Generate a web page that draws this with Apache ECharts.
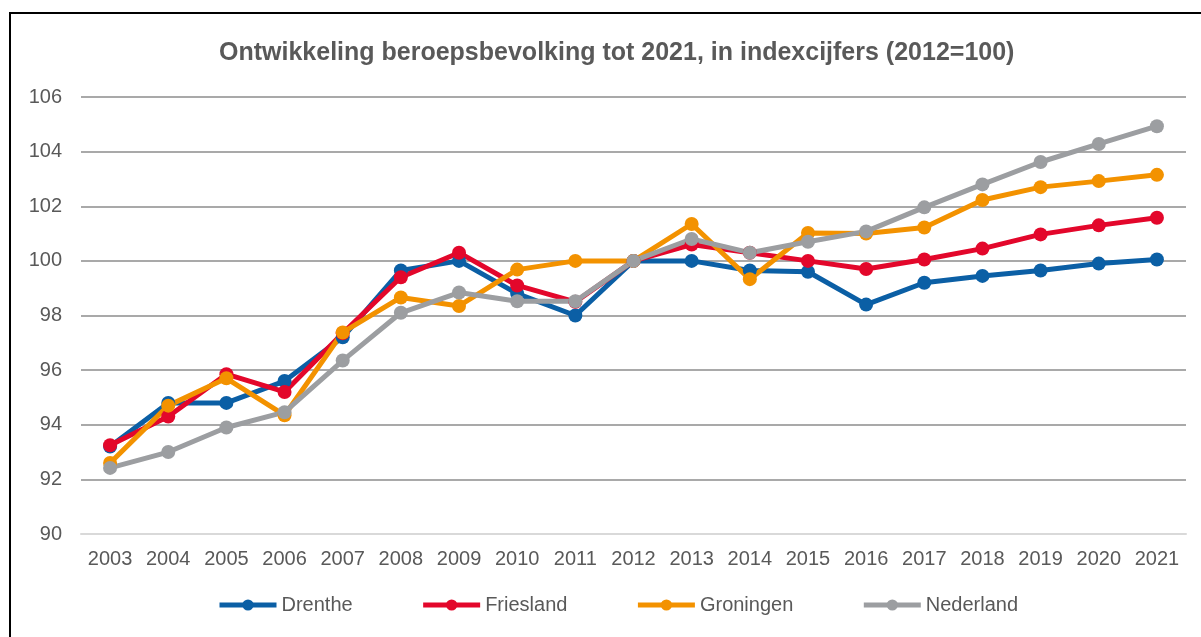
<!DOCTYPE html>
<html>
<head>
<meta charset="utf-8">
<script src="https://cdn.jsdelivr.net/npm/echarts@6/dist/echarts.min.js"></script>
<style>
    html, body { margin:0; padding:0; width:1201px; height:637px; overflow:hidden; background:#fff; }
    #frame { position:absolute; left:9px; top:12px; width:1400px; height:800px; border:2px solid #000; box-sizing:border-box; }
    #chart { position:absolute; left:0; top:0; width:1201px; height:637px; }
</style>
</head>
<body>
<div id="frame"></div>
<div id="chart"></div>
<script>
// jaren (x-as)
const years = ['2003','2004','2005','2006','2007','2008','2009','2010','2011','2012',
               '2013','2014','2015','2016','2017','2018','2019','2020','2021'];
// indexcijfers 2012=100
const drenthe   = [93.2, 94.8, 94.8, 95.6, 97.2, 99.65, 100.0, 98.8, 98.0, 100, 100.0, 99.65, 99.6, 98.4, 99.2, 99.45, 99.65, 99.9, 100.05];
const friesland = [93.25, 94.3, 95.85, 95.2, 97.35, 99.4, 100.3, 99.1, 98.5, 100, 100.6, 100.3, 100.0, 99.7, 100.05, 100.45, 100.97, 101.3, 101.58];
const groningen = [92.6, 94.7, 95.7, 94.35, 97.38, 98.66, 98.35, 99.68, 100.0, 100, 101.35, 99.33, 101.02, 101.0, 101.22, 102.23, 102.7, 102.92, 103.15];
const nederland = [92.42, 93.0, 93.9, 94.46, 96.35, 98.1, 98.84, 98.52, 98.52, 100, 100.8, 100.3, 100.7, 101.08, 101.96, 102.8, 103.62, 104.28, 104.93];

const textColor = '#595959';
const font = 'Liberation Sans, Arial, sans-serif';

function lineSeries(name, data, color){
    return {
        name: name,
        type: 'line',
        data: data,
        symbol: 'circle',
        symbolSize: 14,
        lineStyle: { color: color, width: 5 },
        itemStyle: { color: color },
        emphasis: { disabled: true },
        animation: false
    };
}

let myChart = echarts.init(document.getElementById('chart'));
let option = {
    textStyle: { fontFamily: font },
    title: {
        text: 'Ontwikkeling beroepsbevolking tot 2021, in indexcijfers (2012=100)',
        left: 214,
        top: 36,
        textStyle: { color: textColor, fontSize: 25, fontWeight: 'bold', fontFamily: font }
    },
    grid: { left: 81, right: 15, top: 97, bottom: 103, containLabel: false },
    legend: {
        data: ['Drenthe','Friesland','Groningen','Nederland'],
        left: 212,
        top: 590,
        itemWidth: 57,
        itemHeight: 14,
        itemGap: 68,
        lineStyle: { width: 5 },
        textStyle: { color: textColor, fontSize: 20, fontFamily: font }
    },
    xAxis: {
        type: 'category',
        data: years,
        axisLine: { lineStyle: { color: '#d9d9d9', width: 2 } },
        axisTick: { show: false },
        axisLabel: { color: textColor, fontSize: 20, margin: 15, fontFamily: font }
    },
    yAxis: {
        type: 'value',
        min: 90,
        max: 106,
        interval: 2,
        axisLine: { show: false },
        axisTick: { show: false },
        axisLabel: { color: textColor, fontSize: 20, margin: 19, fontFamily: font },
        splitLine: {
            lineStyle: {
                color: ['rgba(0,0,0,0)','#8c8c8c','#8c8c8c','#8c8c8c','#8c8c8c','#8c8c8c','#8c8c8c','#8c8c8c','#8c8c8c'],
                width: 1.5
            }
        }
    },
    series: [
        lineSeries('Drenthe', drenthe, '#0b5fa5'),
        lineSeries('Friesland', friesland, '#e3072b'),
        lineSeries('Groningen', groningen, '#f39200'),
        lineSeries('Nederland', nederland, '#9c9ea1')
    ]
};
myChart.setOption(option);
</script>
</body>
</html>
